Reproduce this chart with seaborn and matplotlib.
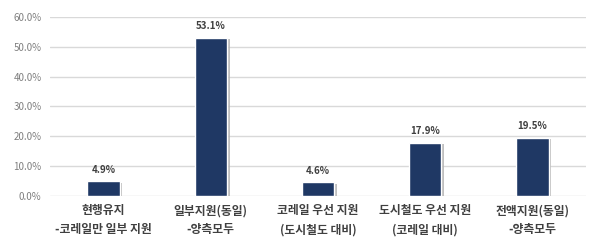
import matplotlib
matplotlib.use("Agg")
import matplotlib.pyplot as plt
import matplotlib.patheffects as pe
import seaborn as sns
import pandas as pd

categories = ["현행유지\n-코레일만 일부 지원", "일부지원(동일)\n-양측모두", "코레일 우선 지원\n(도시철도 대비)",
              "도시철도 우선 지원\n(코레일 대비)", "전액지원(동일)\n-양측모두"]
values = [4.9, 53.1, 4.6, 17.9, 19.5]
yticks = [0, 10, 20, 30, 40, 50, 60]

sns.set_style("white")
plt.rcParams['font.family'] = ['Noto Sans CJK KR', 'DejaVu Sans']

df = pd.DataFrame({"cat": categories, "val": values})
fig = plt.figure(figsize=(6, 2.49), dpi=100)
ax = fig.add_axes([0.083, 0.213, 0.894, 0.719])
sns.barplot(data=df, x="cat", y="val", color="#1f3864", width=0.3, ax=ax, saturation=1)
for p in ax.patches:
    p.set_path_effects([pe.SimplePatchShadow(offset=(2, -1), shadow_rgbFace="#b0b0b0", alpha=0.8), pe.Normal()])
    ax.text(p.get_x() + p.get_width() / 2, p.get_height() + 2.2, f"{p.get_height():.1f}%",
            ha="center", va="bottom", fontsize=7, fontweight="bold", color="#404040")
ax.set_ylim(0, 60)
ax.set_yticks(yticks)
ax.set_yticklabels([f"{v:.1f}%" for v in yticks], fontsize=7, color="#7f7f7f")
ax.set_xticks(range(len(categories)))
ax.set_xticklabels(categories, fontsize=8.5, color="#404040", fontweight="bold", linespacing=1.6)
ax.tick_params(axis="both", length=0, pad=6)
ax.yaxis.grid(True, color="#d9d9d9", linewidth=1)
ax.set_axisbelow(True)
for s in ax.spines.values():
    s.set_visible(False)
ax.set_xlabel("")
ax.set_ylabel("")
ax.set_xlim(-0.5, 4.5)
fig.savefig("out.png", dpi=100)
